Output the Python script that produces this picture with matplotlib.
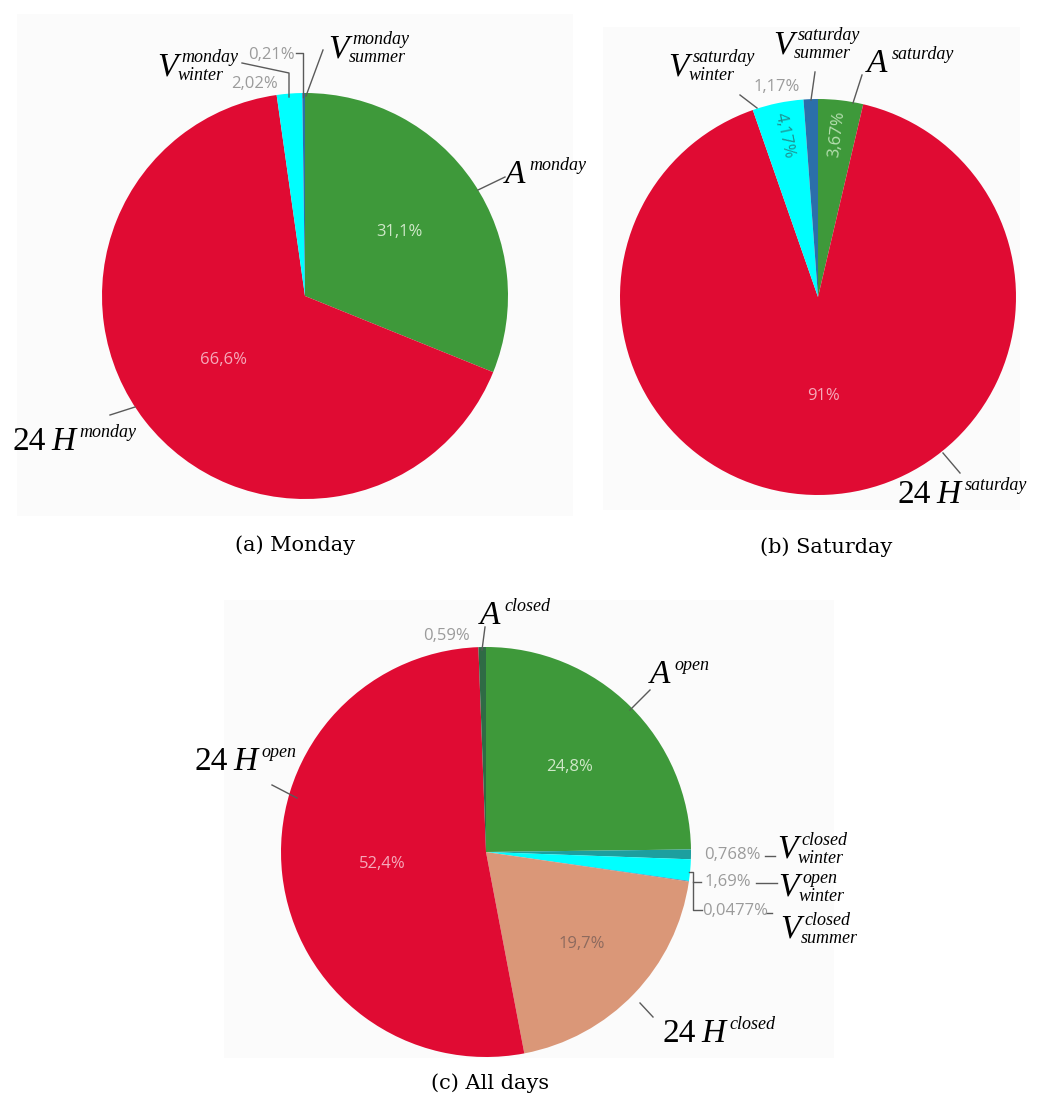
import numpy as np
import matplotlib.pyplot as plt

W, H = 1041, 1103
DPI = 100

plt.rcParams.update({
    "font.family": ["Liberation Serif", "DejaVu Serif"],
    "savefig.facecolor": "white",
})

# data: share of total in percent, clockwise from 12 o'clock
monday_names = [("A", "monday", None), ("24 H", "monday", None),
                ("V", "monday", "winter"), ("V", "monday", "summer")]
monday_values = [31.1, 66.6, 2.02, 0.21]
monday_colors = ["#3e993a", "#e00b33", "#00ffff", "#2b6faa"]

saturday_names = [("A", "saturday", None), ("24 H", "saturday", None),
                  ("V", "saturday", "winter"), ("V", "saturday", "summer")]
saturday_values = [3.67, 91, 4.17, 1.17]
saturday_colors = ["#3e993a", "#e00b33", "#00ffff", "#2b6faa"]

alldays_names = [("A", "open", None), ("V", "closed", "winter"),
                 ("V", "open", "winter"), ("V", "closed", "summer"),
                 ("24 H", "closed", None), ("24 H", "open", None),
                 ("A", "closed", None)]
alldays_values = [24.8, 0.768, 1.69, 0.0477, 19.7, 52.4, 0.59]
alldays_colors = ["#3e993a", "#1d9f9f", "#00ffff", "#2b6faa",
                  "#da9778", "#e00b33", "#2f6b45"]

captions = ["(a) Monday", "(b) Saturday", "(c) All days"]

# layout (image pixels, y downwards)
GREEN_TXT, RED_TXT, OUT_TXT = "#cfe8c8", "#f5a9ba", "#9b9b9b"
layouts = [
    dict(bg=(17, 14, 573, 516), center=(305, 296), radius=203,
         caption=(295, 545),
         names=[(505, 183), (13, 450), (157, 75), (328, 57)],
         pcts=[("in", 0.56, GREEN_TXT, None), ("in", 0.51, RED_TXT, None),
               ("out", (255, 84), OUT_TXT, None), ("out", (271, 55), OUT_TXT, None)],
         leaders=[[(478, 190), (505, 177)], [(110, 415), (135, 407)],
                  [(242, 63), (289, 73), (289, 97)],
                  [(296, 53), (303, 53), (303, 97)],
                  [(306, 96), (323, 50)]]),
    dict(bg=(603, 27, 1020, 510), center=(818, 297), radius=198,
         caption=(826, 547),
         names=[(867, 72), (898, 503), (668, 75), (773, 53)],
         pcts=[("in", 0.83, "#b8e0b2", "out"), ("in", 0.5, RED_TXT, None),
               ("in", 0.83, "#1e9090", "in"), ("out", (777, 87), OUT_TXT, None)],
         leaders=[[(853, 103), (862, 75)], [(943, 453), (960, 473)],
                  [(757, 108), (740, 95)], [(811, 100), (815, 72)]]),
    dict(bg=(224, 600, 834, 1058), center=(486, 852), radius=205,
         caption=(490, 1083),
         names=[(650, 683), (777, 858), (778, 896), (780, 938),
                (663, 1042), (195, 770), (480, 624)],
         pcts=[("in", 0.58, GREEN_TXT, None), ("out", (732, 855), OUT_TXT, None),
               ("out", (728, 882), OUT_TXT, None), ("out", (735, 911), OUT_TXT, None),
               ("in", 0.65, "#8d6a5e", None), ("in", 0.51, RED_TXT, None),
               ("out", (447, 636), OUT_TXT, None)],
         leaders=[[(630, 710), (650, 690)], [(640, 1003), (653, 1017)],
                  [(272, 785), (297, 798)], [(482, 650), (485, 627)],
                  [(765, 856), (775, 856)], [(756, 883), (777, 883)],
                  [(766, 913), (772, 913)],
                  [(689, 872), (693, 872), (693, 910), (702, 910)],
                  [(693, 882), (701, 882)]]),
]

MAIN_FS, SUP_FS, PCT_FS = 24, 13, 12


def pct_text(v):
    return f"{v:g}".replace(".", ",") + "%"


fig = plt.figure(figsize=(W / DPI, H / DPI), dpi=DPI)
renderer = fig.canvas.get_renderer()


def name_label(ax, px, py, name):
    main, sup, sub = name
    inv = ax.transData.inverted()
    x = px
    if main.startswith("24"):
        t = ax.text(x, H - py, "24", fontsize=MAIN_FS, va="baseline")
        x = inv.transform((t.get_window_extent(renderer).x1, 0))[0] + 5
        main = main.split()[-1]
    t = ax.text(x, H - py, main, fontsize=MAIN_FS, style="italic", va="baseline")
    xe = inv.transform((t.get_window_extent(renderer).x1, 0))[0]
    ax.text(xe + 4, H - py + 13, sup, fontsize=SUP_FS, style="italic", va="baseline")
    if sub:
        ax.text(xe, H - py - 5, sub, fontsize=SUP_FS, style="italic", va="baseline")


def draw_panel(values, colors, names, lay, caption):
    x0, y0, x1, y1 = lay["bg"]
    ax = fig.add_axes([x0 / W, 1 - y1 / H, (x1 - x0) / W, (y1 - y0) / H])
    cx, cy = lay["center"][0], H - lay["center"][1]
    r = lay["radius"]
    wedges, _ = ax.pie(values, colors=colors, startangle=90, counterclock=False,
                       center=(cx, cy), radius=r, frame=True,
                       wedgeprops=dict(linewidth=0))
    ax.set_xlim(x0, x1)
    ax.set_ylim(H - y1, H - y0)
    ax.set_aspect("auto")
    ax.set_xticks([])
    ax.set_yticks([])
    for s in ax.spines.values():
        s.set_visible(False)
    ax.set_facecolor("#fbfbfb")

    for w, v, name, npos, spec in zip(wedges, values, names, lay["names"], lay["pcts"]):
        kind, where, col, rot = spec
        if kind == "in":
            th = (w.theta1 + w.theta2) / 2
            tx = cx + where * r * np.cos(np.radians(th))
            ty = cy + where * r * np.sin(np.radians(th))
            angle = 0 if rot is None else (th if rot == "out" else th - 180)
            ax.text(tx, ty, pct_text(v), color=col, fontsize=PCT_FS,
                    family="Open Sans", ha="center", va="center",
                    rotation=angle, rotation_mode="anchor")
        else:
            ax.text(where[0], H - where[1], pct_text(v), color=col,
                    fontsize=PCT_FS, family="Open Sans", ha="center",
                    va="center", clip_on=False)
        name_label(ax, npos[0], npos[1], name)

    for line in lay["leaders"]:
        ax.plot([p[0] for p in line], [H - p[1] for p in line],
                color="#5a5a5a", lw=1, clip_on=False)
    fig.text(lay["caption"][0] / W, 1 - lay["caption"][1] / H, caption,
             ha="center", va="center", fontsize=15, family="DejaVu Serif")


draw_panel(monday_values, monday_colors, monday_names, layouts[0], captions[0])
draw_panel(saturday_values, saturday_colors, saturday_names, layouts[1], captions[1])
draw_panel(alldays_values, alldays_colors, alldays_names, layouts[2], captions[2])

fig.savefig("out.png", dpi=DPI)
